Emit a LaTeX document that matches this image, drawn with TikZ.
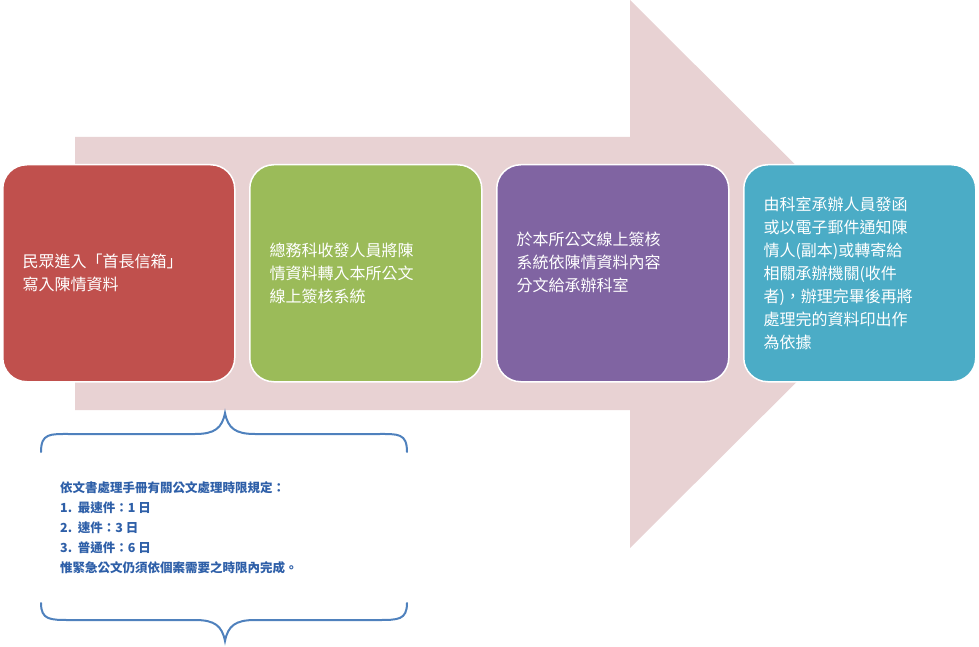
\documentclass[tikz,border=0pt]{standalone}
\usepackage{fontspec}
\newfontfamily\cjk{Noto Sans CJK TC}
\definecolor{c1}{HTML}{C0504D}
\definecolor{c2}{HTML}{9BBB59}
\definecolor{c3}{HTML}{8064A2}
\definecolor{c4}{HTML}{4BACC6}
\definecolor{arr}{HTML}{E8D2D3}
\definecolor{brc}{HTML}{4F81BD}
\definecolor{txb}{HTML}{2E5FA8}
\begin{document}
\begin{tikzpicture}[x=1pt,y=-1pt,
  stepbox/.style={draw=white,line width=1.5pt,rounded corners=24pt,minimum width=232pt,minimum height=217pt,anchor=north west,inner sep=0pt},
  btxt/.style={text=white,font=\cjk\fontsize{16}{23}\selectfont,align=left,anchor=west},
  brace/.style={draw=brc,line width=2pt,line cap=round}]
\useasboundingbox (0,0) rectangle (979,647);
\fill[arr] (75,137) -- (630,137) -- (630,0) -- (905,274) -- (630,548) -- (630,410) -- (75,410) -- cycle;
\node[stepbox,fill=c1] (b1) at (2,164) {};
\node[stepbox,fill=c2] (b2) at (249,164) {};
\node[stepbox,fill=c3] (b3) at (496,164) {};
\node[stepbox,fill=c4] (b4) at (743,164) {};
\node[btxt] (t1) at (19,273) {民眾進入「首長信箱」\\寫入陳情資料};
\node[btxt] (t2) at (266,273) {總務科收發人員將陳\\情資料轉入本所公文\\線上簽核系統};
\node[btxt] (t3) at (513,262) {於本所公文線上簽核\\系統依陳情資料內容\\分文給承辦科室};
\node[btxt] (t4) at (760,273) {由科室承辦人員發函\\或以電子郵件通知陳\\情人(副本)或轉寄給\\相關承辦機關(收件\\者)，辦理完畢後再將\\處理完的資料印出作\\為依據};
\draw[brace] (41,452) .. controls (41,433) and (50,434) .. (70,434) -- (195,434) .. controls (215,434) and (222,428) .. (225,413) .. controls (228,428) and (235,434) .. (255,434) -- (378,434) .. controls (398,434) and (407,433) .. (407,452);
\draw[brace] (41,603) .. controls (41,620) and (50,620) .. (70,620) -- (195,620) .. controls (215,620) and (222,626) .. (225,641) .. controls (228,626) and (235,620) .. (255,620) -- (378,620) .. controls (398,620) and (407,620) .. (407,603);
\node[anchor=north west,text=txb,font=\cjk\bfseries\fontsize{12.5}{20}\selectfont,align=left,inner sep=0pt] (note) at (60,481) {依文書處理手冊有關公文處理時限規定：\\1.\ \ 最速件：1 日\\2.\ \ 速件：3 日\\3.\ \ 普通件：6 日\\惟緊急公文仍須依個案需要之時限內完成。};
\end{tikzpicture}
\end{document}
